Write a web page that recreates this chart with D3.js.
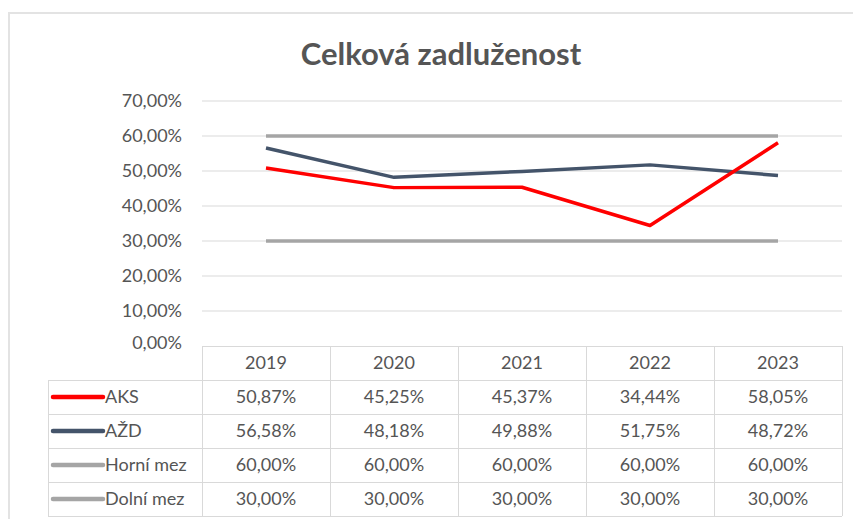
<!DOCTYPE html>
<html>
<head>
<meta charset="utf-8">
<script src="https://cdn.jsdelivr.net/npm/d3@7"></script>
<style>
   body { margin: 0; background: #fff; }
   svg text { font-family: Lato, "Open Sans", sans-serif; fill: #555; }
</style>
</head>
<body>
<script>
// values (in %)
const years = ["2019", "2020", "2021", "2022", "2023"];
const aks = [50.87, 45.25, 45.37, 34.44, 58.05];
const azd = [56.58, 48.18, 49.88, 51.75, 48.72];
const horniMez = [60, 60, 60, 60, 60];
const dolniMez = [30, 30, 30, 30, 30];
const yTicks = [0, 10, 20, 30, 40, 50, 60, 70];

const series = [
   { key: "AKS", values: aks, color: "#ff0000" },
   { key: "AŽD", values: azd, color: "#44546a" },
   { key: "Horní mez", values: horniMez, color: "#a5a5a5" },
   { key: "Dolní mez", values: dolniMez, color: "#a5a5a5" }
];

let o = {
   width: 853,
   height: 519,
   plotLeft: 202,
   plotRight: 842,
   plotTop: 101,
   plotBottom: 346,
   rowHeight: 34,
   legendLeft: 48,
   fontSize: "18px"
};

let cz = d3.formatLocale({ decimal: ",", thousands: " ", grouping: [3], currency: ["", " Kč"] });
let pct = v => cz.format(".2f")(v) + "%";

let svg = d3.select("body").append("svg")
   .attr("width", o.width)
   .attr("height", o.height);

// chart frame (only top and left visible in the picture)
svg.append("path")
   .attr("d", "M9," + o.height + "V13H" + o.width)
   .attr("fill", "none")
   .attr("stroke", "#e3e3e3")
   .attr("stroke-width", 2);

svg.append("text")
   .attr("x", 441)
   .attr("y", 65)
   .attr("text-anchor", "middle")
   .style("font-size", "31px")
   .style("font-weight", "bold")
   .text("Celková zadluženost");

let x = d3.scaleBand()
   .domain(years)
   .range([o.plotLeft, o.plotRight]);

let y = d3.scaleLinear()
   .domain([0, 70])
   .range([o.plotBottom, o.plotTop]);

// gridlines
svg.append("g")
   .selectAll("line")
   .data(yTicks.filter(t => t > 0))
   .enter().append("line")
   .attr("x1", o.plotLeft)
   .attr("x2", o.plotRight)
   .attr("y1", d => y(d))
   .attr("y2", d => y(d))
   .attr("stroke", "#d9d9d9")
   .attr("stroke-width", 1);

// y axis labels
svg.append("g")
   .selectAll("text")
   .data(yTicks)
   .enter().append("text")
   .attr("x", 182)
   .attr("y", d => y(d) - (d === 0 ? 3 : 0))
   .attr("dy", ".35em")
   .attr("text-anchor", "end")
   .style("font-size", o.fontSize)
   .text(d => pct(d));

let line = d3.line()
   .x((d, i) => x(years[i]) + x.bandwidth() / 2)
   .y(d => y(d));

// draw limits first, then the two companies on top
svg.append("g")
   .selectAll("path")
   .data(series.slice().reverse())
   .enter().append("path")
   .attr("d", d => line(d.values))
   .attr("fill", "none")
   .attr("stroke", d => d.color)
   .attr("stroke-width", 3.5)
   .attr("stroke-linejoin", "round");

// data table
let table = svg.append("g")
   .attr("stroke", "#d9d9d9")
   .attr("stroke-width", 1);

let rowY = d3.range(series.length + 2).map(i => o.plotBottom + i * o.rowHeight);

table.selectAll(".hline")
   .data(rowY)
   .enter().append("line")
   .attr("class", "hline")
   .attr("x1", (d, i) => i === 0 ? o.plotLeft : o.legendLeft)
   .attr("x2", o.plotRight)
   .attr("y1", d => d + 0.5)
   .attr("y2", d => d + 0.5);

table.selectAll(".vline")
   .data(years.map(yr => x(yr)).concat([o.plotRight]))
   .enter().append("line")
   .attr("class", "vline")
   .attr("x1", d => d + 0.5)
   .attr("x2", d => d + 0.5)
   .attr("y1", o.plotBottom)
   .attr("y2", rowY[rowY.length - 1]);

table.append("line")
   .attr("x1", o.legendLeft + 0.5)
   .attr("x2", o.legendLeft + 0.5)
   .attr("y1", rowY[1])
   .attr("y2", rowY[rowY.length - 1]);

// header
svg.append("g")
   .selectAll("text")
   .data(years)
   .enter().append("text")
   .attr("x", d => x(d) + x.bandwidth() / 2)
   .attr("y", o.plotBottom + o.rowHeight / 2)
   .attr("dy", ".35em")
   .attr("text-anchor", "middle")
   .style("font-size", o.fontSize)
   .text(d => d);

let rows = svg.append("g")
   .selectAll("g")
   .data(series)
   .enter().append("g")
   .attr("transform", (d, i) => "translate(0," + (rowY[i + 1] + o.rowHeight / 2) + ")");

rows.append("line")
   .attr("x1", 53)
   .attr("x2", 103)
   .attr("stroke", d => d.color)
   .attr("stroke-width", 4.5)
   .attr("stroke-linecap", "round");

rows.append("text")
   .attr("x", 105)
   .attr("dy", ".35em")
   .style("font-size", o.fontSize)
   .text(d => d.key);

rows.selectAll(".val")
   .data(d => d.values)
   .enter().append("text")
   .attr("class", "val")
   .attr("x", (d, i) => x(years[i]) + x.bandwidth() / 2)
   .attr("dy", ".35em")
   .attr("text-anchor", "middle")
   .style("font-size", o.fontSize)
   .text(d => pct(d));
</script>
</body>
</html>
